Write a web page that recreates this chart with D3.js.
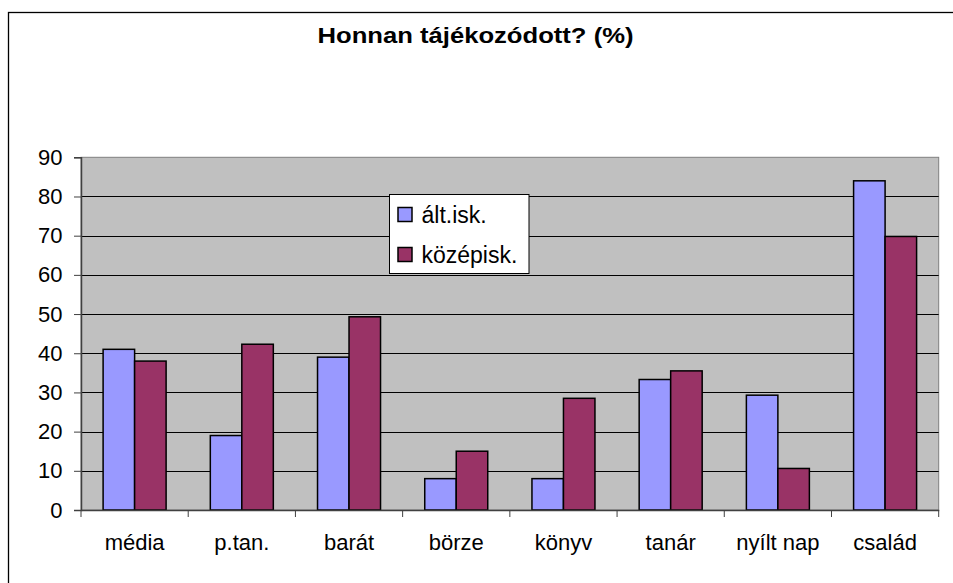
<!DOCTYPE html>
<html><head><meta charset="utf-8">
<script src="https://cdn.jsdelivr.net/npm/d3@7"></script>
<style>body{margin:0;background:#fff;}svg{display:block;font-family:"Liberation Sans",Arial,sans-serif;}</style>
</head><body><div id="chart"></div>
<script>
const categories = ["média","p.tan.","barát","börze","könyv","tanár","nyílt nap","család"];
const seriesNames = ["ált.isk.","középisk."];
const altisk = [41, 19, 39, 8, 8, 33.3, 29.3, 84];
const kozepisk = [38, 42.3, 49.3, 15, 28.5, 35.5, 10.6, 69.8];
const yTicks = [0,10,20,30,40,50,60,70,80,90];
const colors = ["#9999FF","#993366"];
const title = "Honnan tájékozódott? (%)";

const W = 953, H = 583;
const m = {left:81, right:953-938.7, top:157.3, bottom:583-510};
const svg = d3.select("#chart").append("svg").attr("width",W).attr("height",H);

// outer border
svg.append("rect").attr("x",8.5).attr("y",12.5).attr("width",W).attr("height",H)
  .attr("fill","#fff").attr("stroke","#000").attr("stroke-width",1.3);

const x = d3.scaleBand().domain(categories).range([m.left, W-m.right]).paddingInner(0).paddingOuter(0);
const y = d3.scaleLinear().domain([0,90]).range([H-m.bottom, m.top]);

// plot background
svg.append("rect").attr("x",m.left).attr("y",m.top).attr("width",W-m.right-m.left).attr("height",y(0)-m.top)
  .attr("fill","#C0C0C0").attr("stroke","#808080").attr("stroke-width",1);

// gridlines
svg.append("g").selectAll("line").data(yTicks.filter(d=>d>0 && d<90)).join("line")
  .attr("x1",m.left).attr("x2",W-m.right).attr("y1",d=>Math.round(y(d))+0.5).attr("y2",d=>Math.round(y(d))+0.5)
  .attr("stroke","#000").attr("stroke-width",1);

// bars
const data = categories.map((c,i)=>({c, vals:[altisk[i],kozepisk[i]]}));
const groups = svg.append("g").selectAll("g").data(data).join("g").attr("transform",d=>`translate(${x(d.c)},0)`);
const bw = 31.5, off = (x.bandwidth()-2*bw)/2;
groups.selectAll("rect").data(d=>d.vals.map((v,j)=>({v,j}))).join("rect")
  .attr("x",d=>off + d.j*bw).attr("width",bw)
  .attr("y",d=>y(d.v)).attr("height",d=>y(0)-y(d.v))
  .attr("fill",d=>colors[d.j]).attr("stroke","#000").attr("stroke-width",1.5);

// y axis
const yAxis = d3.axisLeft(y).tickValues(yTicks).tickSize(7).tickPadding(11.5);
const ya = svg.append("g").attr("transform",`translate(${m.left},0)`).call(yAxis);
ya.select(".domain").attr("stroke","#404040").attr("stroke-width",1.5);
ya.selectAll(".tick line").attr("stroke","#404040");
ya.selectAll("text").attr("font-size",22).attr("fill","#000").attr("font-family","Liberation Sans, Arial, sans-serif");

// x axis
const xAxis = d3.axisBottom(x).tickSize(0).tickPadding(0);
const xa = svg.append("g").attr("transform",`translate(0,${y(0)})`).call(xAxis);
xa.select(".domain").attr("stroke","#404040").attr("stroke-width",1.5);
xa.selectAll("text").attr("font-size",22).attr("fill","#000").attr("font-family","Liberation Sans, Arial, sans-serif")
  .attr("dy",null).attr("y",40);
// category boundary ticks
svg.append("g").selectAll("line").data(d3.range(categories.length+1)).join("line")
  .attr("x1",i=>m.left + i*x.bandwidth()).attr("x2",i=>m.left + i*x.bandwidth())
  .attr("y1",y(0)).attr("y2",y(0)+7).attr("stroke","#404040");

// title
svg.append("text").attr("x",475.5).attr("y",43).attr("text-anchor","middle")
  .attr("font-size",22).attr("font-weight","bold")
  .attr("textLength",316).attr("lengthAdjust","spacingAndGlyphs").text(title);

// legend
const lg = svg.append("g").attr("transform","translate(389.5,194.5)");
lg.append("rect").attr("width",139.5).attr("height",79).attr("fill","#fff").attr("stroke","#000").attr("stroke-width",1);
seriesNames.forEach((s,i)=>{
  const yy = 20 + i*40;
  lg.append("rect").attr("x",8.5).attr("y",yy-7).attr("width",14).attr("height",14)
    .attr("fill",colors[i]).attr("stroke","#000").attr("stroke-width",1.5);
  lg.append("text").attr("x",32).attr("y",yy+8).attr("font-size",23).text(s);
});
</script></body></html>
